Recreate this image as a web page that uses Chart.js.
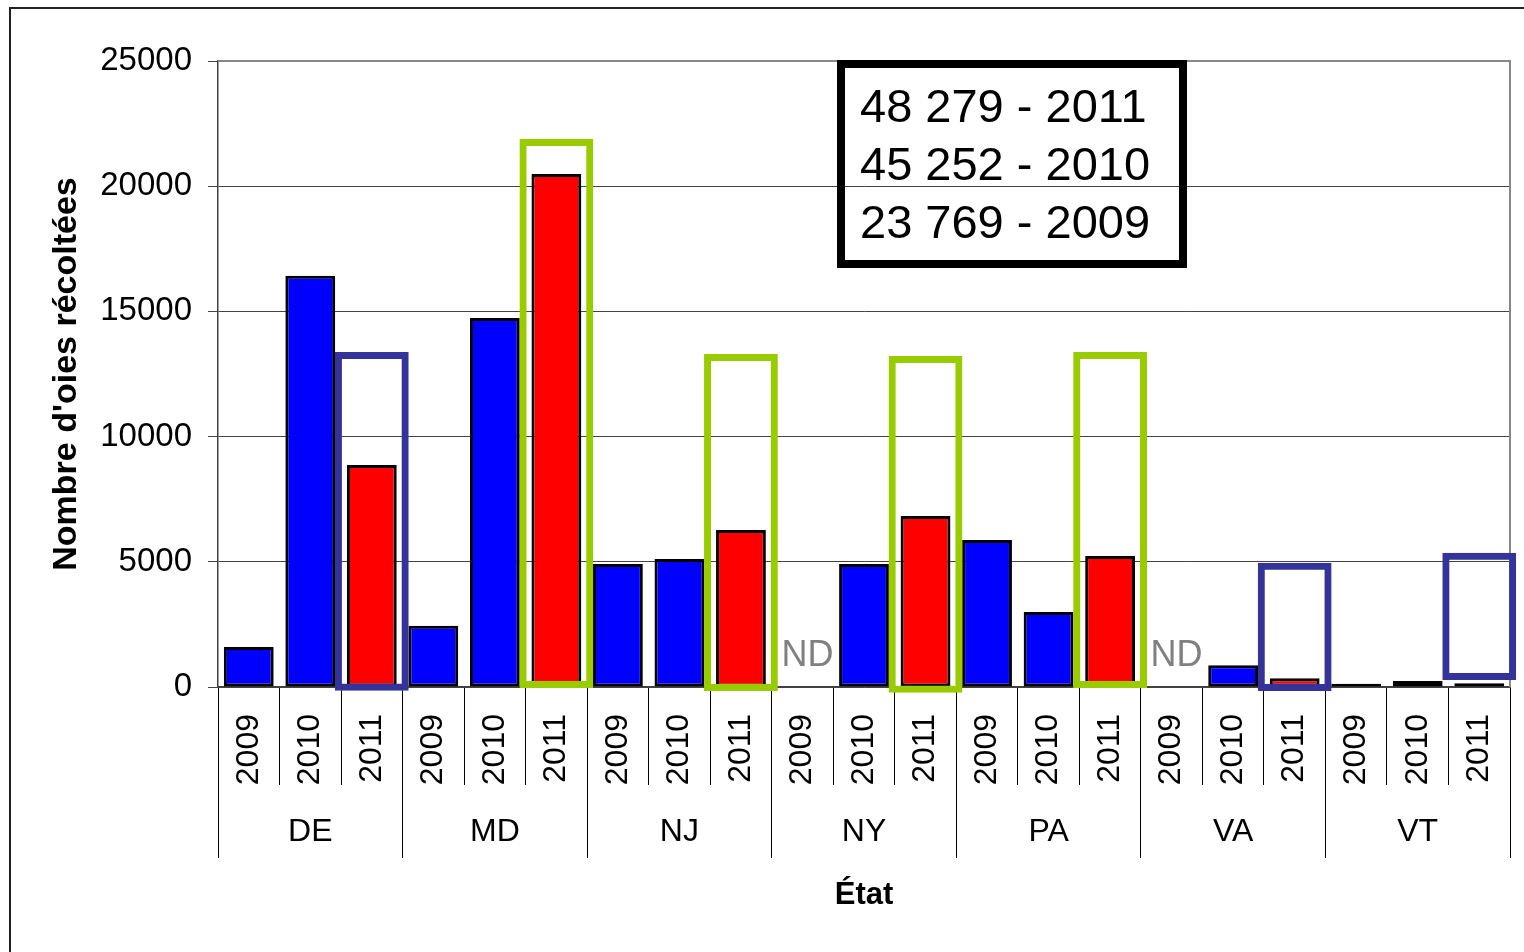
<!DOCTYPE html>
<html>
<head>
<meta charset="utf-8">
<script src="https://cdn.jsdelivr.net/npm/chart.js@4/dist/chart.umd.min.js"></script>
<style>
  html, body { margin: 0; padding: 0; background: #fff; }
</style>
</head>
<body>
<canvas id="harvest_chart" width="1524" height="952"></canvas>
<script>
// harvest by state and year
const states = ['DE', 'MD', 'NJ', 'NY', 'PA', 'VA', 'VT'];
const years = ['2009', '2010', '2011'];
const v2009 = [1600, 2450, 4910, null, 5870, null, 130];
const v2010 = [16420, 14740, 5110, 4910, 3000, 870, 240];
const v2011 = [8870, 20490, 6270, 6830, 5230, 350, 150];
const yTicks = [0, 5000, 10000, 15000, 20000, 25000];

// highlighted 2011 bars (box bottom / top in harvest units)
const boxBottom = [-150, -40, -160, -230, -40, -160, 280];
const boxTop = [13380, 21885, 13300, 13220, 13380, 4965, 5365];
const boxColor = ['#333399', '#99cc00', '#99cc00', '#99cc00', '#99cc00', '#333399', '#333399'];

const totalsText = ['48 279 - 2011', '45 252 - 2010', '23 769 - 2009'];

Chart.defaults.font.family = '"Liberation Sans", Arial, sans-serif';
Chart.defaults.color = '#000';

let labels = [];
let harvest = [];
let boxes = [];
let boxBorders = [];
states.forEach((s, i) => {
    let perYear = [v2009[i], v2010[i], v2011[i]];
    years.forEach((y, j) => {
        labels.push(y);
        harvest.push(perYear[j]);
        if (y === '2011') {
            boxes.push([boxBottom[i], boxTop[i]]);
            boxBorders.push(boxColor[i]);
        } else {
            boxes.push(null);
            boxBorders.push('rgba(0,0,0,0)');
        }
    });
});

const decor = {
    id: 'decor',
    beforeDraw(chart) {
        let ctx = chart.ctx;
        ctx.save();
        ctx.fillStyle = '#fff';
        ctx.fillRect(0, 0, chart.width, chart.height);
        ctx.strokeStyle = '#222';
        ctx.lineWidth = 2;
        ctx.beginPath();
        ctx.moveTo(10, chart.height);
        ctx.lineTo(10, 8);
        ctx.lineTo(chart.width, 8);
        ctx.stroke();
        ctx.restore();
    },
    beforeDatasetsDraw(chart) {
        // plot area border, top and right
        let ctx = chart.ctx;
        let a = chart.chartArea;
        ctx.save();
        ctx.strokeStyle = '#888';
        ctx.lineWidth = 2;
        ctx.beginPath();
        ctx.moveTo(a.left, a.top);
        ctx.lineTo(a.right, a.top);
        ctx.lineTo(a.right, a.bottom);
        ctx.stroke();
        ctx.restore();
    },
    afterDatasetsDraw(chart) {
        // ND where there is no data
        let ctx = chart.ctx;
        let xs = chart.scales.x;
        let ys = chart.scales.y;
        ctx.save();
        ctx.fillStyle = '#808080';
        ctx.font = '36px "Liberation Sans", Arial, sans-serif';
        ctx.textAlign = 'center';
        ctx.textBaseline = 'alphabetic';
        harvest.forEach((v, i) => {
            if (v === null) {
                ctx.fillText('ND', xs.getPixelForValue(i) + 5, ys.getPixelForValue(0) - 21);
            }
        });
        ctx.restore();
    },
    afterDraw(chart) {
        // totals text box
        let ctx = chart.ctx;
        ctx.save();
        ctx.strokeStyle = '#000';
        ctx.lineWidth = 8;
        ctx.strokeRect(841, 64, 342, 200);
        ctx.fillStyle = '#000';
        ctx.font = '47px "Liberation Sans", Arial, sans-serif';
        ctx.textAlign = 'left';
        ctx.textBaseline = 'alphabetic';
        totalsText.forEach((t, i) => ctx.fillText(t, 860, 122 + i * 58));
        ctx.restore();
    }
};

let hctx = document.getElementById('harvest_chart');

let harvestChart = new Chart(hctx, {
    type: 'bar',
    data: {
        labels: labels,
        datasets: [{
            label: 'cadres',
            data: boxes,
            backgroundColor: 'rgba(0,0,0,0)',
            borderColor: boxBorders,
            borderWidth: 7,
            borderSkipped: false,
            barPercentage: 1.2,
            categoryPercentage: 1,
            grouped: false,
            clip: false,
            order: 1
        }, {
            label: "Nombre d'oies récoltées",
            data: harvest,
            backgroundColor: labels.map(y => y === '2011' ? '#ff0000' : '#0000ff'),
            borderColor: '#000',
            borderWidth: 3,
            borderSkipped: false,
            barPercentage: 0.81,
            categoryPercentage: 1,
            order: 2
        }]
    },
    options: {
        responsive: false,
        animation: false,
        events: [],
        layout: { padding: { left: 10, right: 14, top: 61, bottom: 0 } },
        plugins: {
            legend: { display: false },
            tooltip: { enabled: false }
        },
        scales: {
            x: {
                type: 'category',
                position: 'bottom',
                weight: 0,
                offset: true,
                grid: {
                    offset: true,
                    drawOnChartArea: false,
                    tickLength: 98,
                    color: '#000',
                    lineWidth: 1
                },
                border: { display: true, color: '#404040', width: 1.5 },
                ticks: {
                    autoSkip: false,
                    minRotation: 90,
                    maxRotation: 90,
                    padding: -71,
                    font: { size: 32 }
                },
                afterFit(s) {
                    s.height = 98;
                    s.paddingLeft = 0;
                    s.paddingRight = 0;
                }
            },
            x2: {
                type: 'category',
                axis: 'x',
                position: 'bottom',
                weight: 1,
                labels: states,
                offset: true,
                grid: {
                    offset: true,
                    drawOnChartArea: false,
                    tickLength: 73,
                    color: '#000',
                    lineWidth: 1
                },
                border: { display: false },
                ticks: {
                    autoSkip: false,
                    maxRotation: 0,
                    padding: -45,
                    font: { size: 32 }
                },
                title: {
                    display: true,
                    text: 'État',
                    font: { size: 31, weight: 'bold' },
                    padding: { top: 0, bottom: 38 }
                },
                afterFit(s) {
                    s.height = 167;
                    s.paddingLeft = 0;
                    s.paddingRight = 0;
                }
            },
            y: {
                min: 0,
                max: 25000,
                afterBuildTicks(s) {
                    s.ticks = yTicks.map(v => ({ value: v }));
                },
                grid: {
                    color: '#444',
                    lineWidth: 1,
                    tickLength: 10
                },
                border: { display: true, color: '#404040', width: 1.5 },
                ticks: {
                    padding: 16,
                    font: { size: 33 },
                    callback: v => String(v)
                },
                title: {
                    display: true,
                    text: "Nombre d'oies récoltées",
                    font: { size: 34, weight: 'bold' },
                    padding: { top: 36, bottom: 0 }
                },
                afterFit(s) {
                    s.width = 208;
                }
            }
        }
    },
    plugins: [decor]
});
</script>
</body>
</html>
